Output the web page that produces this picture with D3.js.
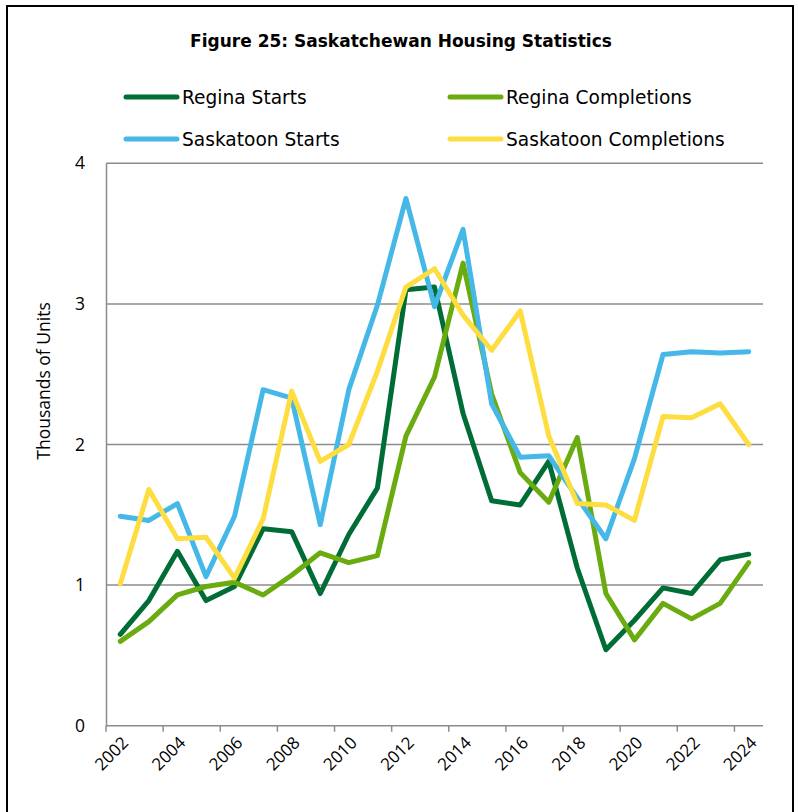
<!DOCTYPE html>
<html lang="en">
<head>
<meta charset="UTF-8">
<title>Saskatchewan Housing Statistics</title>
<style>
  body { margin: 0; background: #fff; }
  svg text { font-family: "Open Sans", "Liberation Sans", sans-serif; fill: #000; }
  svg text.wide { font-family: "DejaVu Sans", "Open Sans", sans-serif; }
</style>
</head>
<body>
<svg width="798" height="812"></svg>
<script src="https://d3js.org/d3.v7.min.js"></script>
<script>
// data, thousands of units
var years = ['2002','2003','2004','2005','2006','2007','2008','2009','2010','2011','2012',
             '2013','2014','2015','2016','2017','2018','2019','2020','2021','2022','2023','2024'];
var reginaStarts      = [0.65,0.89,1.24,0.89,0.99,1.40,1.38,0.94,1.36,1.69,3.10,3.12,2.22,1.60,1.57,1.88,1.12,0.54,0.75,0.98,0.94,1.18,1.22];
var reginaCompletions = [0.60,0.74,0.93,0.99,1.02,0.93,1.07,1.23,1.16,1.21,2.06,2.48,3.29,2.36,1.80,1.59,2.05,0.94,0.61,0.87,0.76,0.87,1.16];
var saskatoonStarts   = [1.49,1.46,1.58,1.06,1.49,2.39,2.33,1.43,2.39,2.99,3.75,2.98,3.53,2.29,1.91,1.92,1.62,1.33,1.90,2.64,2.66,2.65,2.66];
var saskatoonCompl    = [1.01,1.68,1.33,1.34,1.05,1.47,2.38,1.88,2.00,2.52,3.12,3.25,2.92,2.67,2.95,2.06,1.58,1.57,1.46,2.20,2.19,2.29,2.00];
var yTicks = [0,1,2,3,4];
var xLabels = years.filter(function(d){ return +d % 2 === 0; });

var series = [
  {name:'Regina Starts',         values: reginaStarts,      color:'#006d36'},
  {name:'Regina Completions',    values: reginaCompletions, color:'#6aab10'},
  {name:'Saskatoon Starts',      values: saskatoonStarts,   color:'#45b8e8'},
  {name:'Saskatoon Completions', values: saskatoonCompl,    color:'#fddd3f'}
];

var plot = {left:106, right:763, top:163.3, bottom:725.7};
var svg = d3.select('svg');

// outer frame
svg.append('rect')
  .attr('x', 7).attr('y', 6).attr('width', 786).attr('height', 830)
  .attr('fill', 'none').attr('stroke', '#000').attr('stroke-width', 2);

var x = d3.scaleBand().domain(years).range([plot.left, plot.right]).padding(0);
var y = d3.scaleLinear().domain([0, 4]).range([plot.bottom, plot.top]);

// title
svg.append('text')
  .attr('class', 'wide')
  .attr('x', 401).attr('y', 47)
  .attr('text-anchor', 'middle')
  .style('font-size', '17px').style('font-weight', 'bold')
  .text('Figure 25: Saskatchewan Housing Statistics');

// legend
var legend = svg.append('g');
var legPos = [[124,97],[448,97],[124,139],[448,139]];
series.forEach(function(s, i){
  var g = legend.append('g').attr('transform', 'translate(' + legPos[i][0] + ',' + legPos[i][1] + ')');
  g.append('line').attr('x1', 2).attr('x2', 53).attr('y1', 0).attr('y2', 0)
    .attr('stroke', s.color).attr('stroke-width', 5).attr('stroke-linecap', 'round');
  g.append('text').attr('class', 'wide').attr('x', 58).attr('dy', '0.36em')
    .style('font-size', '18.6px').text(s.name);
});

// grid lines
svg.append('g')
  .selectAll('line')
  .data(yTicks.slice(1))
  .enter()
  .append('line')
  .attr('x1', plot.left).attr('x2', plot.right)
  .attr('y1', function(d){ return y(d); }).attr('y2', function(d){ return y(d); })
  .attr('stroke', '#8c8c8c').attr('stroke-width', 1.5);

// y axis
var yAxis = d3.axisLeft(y).tickValues(yTicks).tickSize(0).tickPadding(21).tickFormat(d3.format('d'));
var gy = svg.append('g').attr('transform', 'translate(' + plot.left + ',0)').call(yAxis);
gy.select('.domain').attr('stroke', '#8c8c8c').attr('stroke-width', 1.5);
gy.selectAll('text').style('font-size', '17.5px').attr('fill', '#000');

// x axis line + ticks on category boundaries
var gx = svg.append('g').attr('transform', 'translate(0,' + plot.bottom + ')');
gx.append('line').attr('x1', plot.left).attr('x2', plot.right)
  .attr('stroke', '#8c8c8c').attr('stroke-width', 1.5);
gx.selectAll('.tk')
  .data(xLabels)
  .enter()
  .append('line')
  .attr('class', 'tk')
  .attr('x1', function(d){ return x(d); }).attr('x2', function(d){ return x(d); })
  .attr('y1', 0).attr('y2', 6)
  .attr('stroke', '#8c8c8c').attr('stroke-width', 1.5);

var xAxis = d3.axisBottom(x).tickValues(xLabels).tickSize(0).tickPadding(0);
var gxl = svg.append('g').attr('transform', 'translate(0,' + plot.bottom + ')').call(xAxis);
gxl.select('.domain').remove();
gxl.selectAll('text')
  .style('font-size', '17px').attr('fill', '#000')
  .attr('text-anchor', 'end')
  .attr('y', 0).attr('dy', '0.35em')
  .attr('transform', 'translate(5,14) rotate(-45)');

// y title
svg.append('text')
  .attr('transform', 'translate(50,381) rotate(-90)')
  .attr('text-anchor', 'middle')
  .style('font-size', '17.5px')
  .text('Thousands of Units');

// lines
var line = d3.line()
  .x(function(d, i){ return x(years[i]) + x.bandwidth() / 2; })
  .y(function(d){ return y(d); });

svg.append('g')
  .selectAll('path')
  .data(series)
  .enter()
  .append('path')
  .attr('d', function(s){ return line(s.values); })
  .attr('fill', 'none')
  .attr('stroke', function(s){ return s.color; })
  .attr('stroke-width', 5)
  .attr('stroke-linejoin', 'round')
  .attr('stroke-linecap', 'round');
</script>
</body>
</html>
